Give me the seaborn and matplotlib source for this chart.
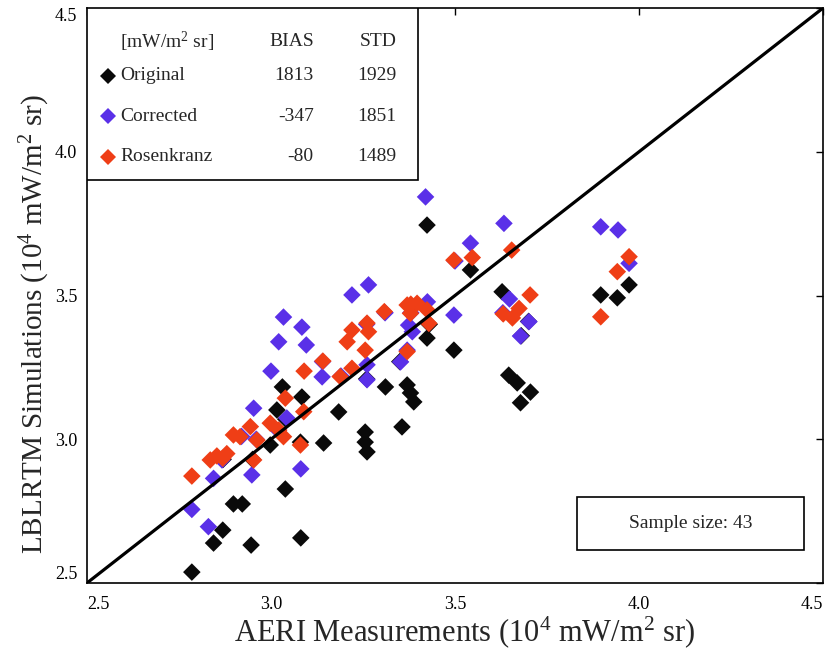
import matplotlib
matplotlib.use("Agg")
import matplotlib.pyplot as plt
import pandas as pd
import seaborn as sns
from matplotlib.lines import Line2D
from matplotlib.patches import Rectangle

# ---- data (10^4 mW/m^2 sr) ----
series_names = ["Original", "Corrected", "Rosenkranz"]
series_colors = ["#0a0a0a", "#5a30e8", "#ef3e16"]
bias = [1813, -347, -80]
std = [1929, 1851, 1489]
sample_size = 43

aeri_original = [2.785, 2.844, 2.869, 2.898, 2.922, 2.946, 3.039, 3.081, 2.998, 3.016,
                 3.031, 3.084, 3.143, 3.184, 3.256, 3.256, 3.261, 3.311, 3.356, 3.370,
                 3.379, 3.388, 3.424, 3.424, 3.497, 3.542, 3.628, 3.646, 3.669, 3.705,
                 3.678, 3.896, 3.941, 3.973, 3.080, 2.950, 2.870, 3.040, 3.260, 3.350,
                 3.700, 3.430, 3.680]
lblrtm_original = [2.538, 2.639, 2.684, 2.775, 2.775, 2.632, 2.827, 2.657, 2.980, 3.102,
                   3.182, 3.147, 2.987, 3.095, 3.025, 2.990, 2.956, 3.182, 3.043, 3.189,
                   3.161, 3.130, 3.352, 3.745, 3.310, 3.589, 3.513, 3.223, 3.196, 3.164,
                   3.127, 3.502, 3.492, 3.537, 2.990, 2.930, 2.930, 3.070, 3.210, 3.270,
                   3.410, 3.400, 3.360]

aeri_corrected = [2.785, 2.830, 2.844, 2.867, 2.948, 2.953, 3.081, 3.043, 3.000, 3.021,
                  3.034, 3.084, 3.096, 3.139, 3.220, 3.265, 3.261, 3.261, 3.352, 3.374,
                  3.384, 3.425, 3.420, 3.497, 3.542, 3.633, 3.648, 3.701, 3.678, 3.896,
                  3.943, 3.973, 2.920, 2.960, 3.020, 3.140, 3.190, 3.260, 3.310, 3.380,
                  3.370, 3.500, 3.630]
lblrtm_corrected = [2.756, 2.696, 2.864, 2.928, 2.876, 3.108, 2.897, 3.074, 3.237, 3.339,
                    3.425, 3.390, 3.328, 3.217, 3.502, 3.537, 3.259, 3.207, 3.269, 3.397,
                    3.374, 3.478, 3.843, 3.432, 3.682, 3.751, 3.488, 3.409, 3.359, 3.739,
                    3.728, 3.612, 3.010, 3.000, 3.030, 3.270, 3.220, 3.400, 3.440, 3.440,
                    3.310, 3.620, 3.440]

aeri_rosenkranz = [2.785, 2.835, 2.853, 2.869, 2.953, 2.898, 2.916, 2.944, 2.962, 2.998,
                   3.021, 3.034, 3.080, 3.089, 3.039, 3.090, 3.141, 3.188, 3.220, 3.207,
                   3.256, 3.261, 3.265, 3.308, 3.370, 3.397, 3.379, 3.370, 3.424, 3.429,
                   3.497, 3.547, 3.654, 3.704, 3.631, 3.674, 3.656, 3.941, 3.973, 3.896,
                   2.880, 3.380, 3.220]
lblrtm_rosenkranz = [2.872, 2.928, 2.942, 2.934, 2.928, 3.015, 3.009, 3.044, 2.997, 3.056,
                     3.032, 3.009, 2.980, 3.096, 3.143, 3.237, 3.272, 3.218, 3.247, 3.339,
                     3.310, 3.404, 3.374, 3.444, 3.467, 3.473, 3.438, 3.305, 3.450, 3.403,
                     3.623, 3.632, 3.658, 3.502, 3.436, 3.455, 3.422, 3.583, 3.635, 3.426,
                     2.950, 3.470, 3.380]

ticks = [2.5, 3.0, 3.5, 4.0, 4.5]
tick_labels = ["2.5", "3.0", "3.5", "4.0", "4.5"]

df = pd.concat([
    pd.DataFrame({"AERI": aeri_original, "LBLRTM": lblrtm_original, "Model": series_names[0]}),
    pd.DataFrame({"AERI": aeri_corrected, "LBLRTM": lblrtm_corrected, "Model": series_names[1]}),
    pd.DataFrame({"AERI": aeri_rosenkranz, "LBLRTM": lblrtm_rosenkranz, "Model": series_names[2]}),
], ignore_index=True)

# ---- style ----
sns.set_theme(style="white")
serif = ["Liberation Serif", "DejaVu Serif"]
plt.rcParams["font.family"] = serif
plt.rcParams["mathtext.fontset"] = "custom"
plt.rcParams["mathtext.rm"] = "Liberation Serif"
plt.rcParams["mathtext.it"] = "Liberation Serif:italic"
plt.rcParams["mathtext.bf"] = "Liberation Serif:bold"

fig = plt.figure(figsize=(8.36, 6.57), dpi=100)
ax = fig.add_axes([0.104, 0.1126, 0.8805, 0.8752])

palette = dict(zip(series_names, series_colors))
sns.scatterplot(data=df, x="AERI", y="LBLRTM", hue="Model", palette=palette,
                marker="D", s=80, linewidth=0, legend=False, ax=ax, zorder=3)

# 1:1 line
ax.plot([ticks[0], ticks[-1]], [ticks[0], ticks[-1]], color="black", lw=2.3, zorder=4)

ax.set_xlim(ticks[0], ticks[-1])
ax.set_ylim(ticks[0], ticks[-1])
ax.set_xticks(ticks)
ax.set_yticks(ticks)
ax.set_xticklabels(tick_labels)
ax.set_yticklabels(tick_labels)
ax.tick_params(direction="in", length=5, width=1, top=True, right=True,
               labelsize=13, colors="black", pad=7)
ax.tick_params(axis="x", pad=9)
for lab in ax.get_xticklabels()[:1]:
    lab.set_ha("left")
for lab in ax.get_xticklabels()[-1:]:
    lab.set_ha("right")
for lab in ax.get_yticklabels()[:1]:
    lab.set_va("bottom")
for lab in ax.get_yticklabels()[-1:]:
    lab.set_va("top")
for sp in ax.spines.values():
    sp.set_color("black")
    sp.set_linewidth(1.2)

ax.set_xlabel(r"AERI Measurements (10$\mathregular{^{4}}$ mW/m$\mathregular{^{2}}$ sr)",
              fontsize=22)
ax.set_ylabel(r"LBLRTM Simulations (10$\mathregular{^{4}}$ mW/m$\mathregular{^{2}}$ sr)",
              fontsize=21)
ax.xaxis.set_label_coords(0.513, -0.055)
ax.yaxis.set_label_coords(-0.047, 0.45)

# ---- statistics table in the upper-left corner ----
tr = ax.transAxes
ax.add_patch(Rectangle((0, 0.701), 0.45, 0.299, transform=tr, fill=True,
                       facecolor="white", edgecolor="black", lw=1.2, zorder=5))
fs = 14
ax.text(0.045, 0.941, r"[mW/m$\mathregular{^{2}}$ sr]", transform=tr, fontsize=fs,
        ha="left", va="center", zorder=6)
ax.text(0.308, 0.941, "BIAS", transform=tr, fontsize=fs, ha="right", va="center", zorder=6)
ax.text(0.421, 0.941, "STD", transform=tr, fontsize=fs, ha="right", va="center", zorder=6)
row_y = [0.882, 0.812, 0.741]
for name, col, b, s_, yy in zip(series_names, series_colors, bias, std, row_y):
    ax.add_line(Line2D([0.028], [yy], transform=tr, marker="D", markersize=8,
                       markerfacecolor=col, markeredgewidth=0, linestyle="none", zorder=6))
    ax.text(0.045, yy, name, transform=tr, fontsize=fs, ha="left", va="center", zorder=6)
    ax.text(0.308, yy, f"{b}", transform=tr, fontsize=fs, ha="right", va="center", zorder=6)
    ax.text(0.421, yy, f"{s_}", transform=tr, fontsize=fs, ha="right", va="center", zorder=6)

# ---- sample size box ----
ax.add_patch(Rectangle((0.666, 0.057), 0.308, 0.093, transform=tr, fill=True,
                       facecolor="white", edgecolor="black", lw=1.2, zorder=5))
ax.text(0.82, 0.1035, f"Sample size: {sample_size}", transform=tr, fontsize=fs,
        ha="center", va="center", zorder=6)

fig.savefig("out.png", dpi=100)
